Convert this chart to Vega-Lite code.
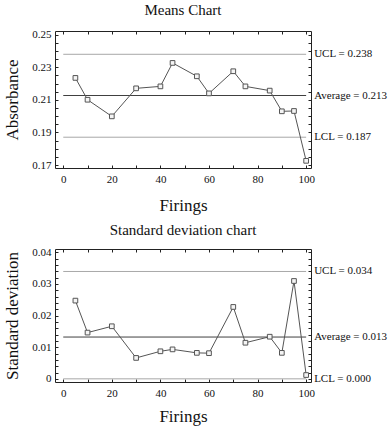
{
  "$schema": "https://vega.github.io/schema/vega-lite/v6.json",
  "background": "white",
  "padding": {"left": 3, "top": 2, "right": 2, "bottom": 2},
  "spacing": 8,
  "config": {
    "view": {"stroke": "#222", "strokeWidth": 1},
    "font": "Liberation Serif",
    "title": {"font": "Liberation Serif", "fontSize": 15, "fontWeight": "normal", "color": "#111", "offset": 11, "anchor": "middle"},
    "axis": {"labelFont": "Liberation Serif", "labelFontSize": 11, "labelColor": "#111", "titleFont": "Liberation Serif", "titleFontSize": 17, "titleFontWeight": "normal", "titleColor": "#111", "tickColor": "#222", "tickWidth": 1, "domain": false, "grid": false, "ticks": true},
    "text": {"font": "Liberation Serif", "fontSize": 11, "color": "#111"}
  },
  "datasets": {
    "means": [
      {"firing": 5, "value": 0.2235}, {"firing": 10, "value": 0.2101}, {"firing": 20, "value": 0.1999},
      {"firing": 30, "value": 0.2171}, {"firing": 40, "value": 0.2183}, {"firing": 45, "value": 0.2327},
      {"firing": 55, "value": 0.2245}, {"firing": 60, "value": 0.2140}, {"firing": 70, "value": 0.2276},
      {"firing": 75, "value": 0.2183}, {"firing": 85, "value": 0.2157}, {"firing": 90, "value": 0.2030},
      {"firing": 95, "value": 0.2032}, {"firing": 100, "value": 0.1726}
    ],
    "sds": [
      {"firing": 5, "value": 0.0247}, {"firing": 10, "value": 0.0146}, {"firing": 20, "value": 0.0166},
      {"firing": 30, "value": 0.0066}, {"firing": 40, "value": 0.0087}, {"firing": 45, "value": 0.0093},
      {"firing": 55, "value": 0.0082}, {"firing": 60, "value": 0.0081}, {"firing": 70, "value": 0.0227},
      {"firing": 75, "value": 0.0114}, {"firing": 85, "value": 0.0133}, {"firing": 90, "value": 0.0082},
      {"firing": 95, "value": 0.0309}, {"firing": 100, "value": 0.0012}
    ],
    "meanLimits": [
      {"kind": "UCL", "value": 0.238, "label": "UCL = 0.238"},
      {"kind": "Average", "value": 0.2127, "label": "Average = 0.213"},
      {"kind": "LCL", "value": 0.1871, "label": "LCL = 0.187"}
    ],
    "sdLimits": [
      {"kind": "UCL", "value": 0.0339, "label": "UCL = 0.034"},
      {"kind": "Average", "value": 0.0132, "label": "Average = 0.013"},
      {"kind": "LCL", "value": 0.0, "label": "LCL = 0.000"}
    ]
  },
  "vconcat": [
    {
      "title": "Means Chart",
      "width": 256,
      "height": 137,
      "resolve": {"axis": {"x": "independent", "y": "independent"}},
      "layer": [
        {
          "data": {"name": "meanLimits"},
          "mark": {"type": "rule", "strokeWidth": 1},
          "encoding": {
            "x": {"datum": 0, "type": "quantitative", "scale": {"domain": [-3.4, 102], "nice": false, "zero": false},
                  "axis": {"orient": "top", "title": null, "labels": false, "values": [0,10,20,30,40,50,60,70,80,90,100], "tickSize": -3}},
            "x2": {"datum": 100},
            "y": {"field": "value", "type": "quantitative", "scale": {"domain": [0.1682, 0.2523], "nice": false, "zero": false},
                  "axis": {"orient": "right", "title": null, "labels": false, "values": [0.17,0.175,0.18,0.185,0.19,0.195,0.2,0.205,0.21,0.215,0.22,0.225,0.23,0.235,0.24,0.245,0.25], "tickSize": -3}},
            "color": {"field": "kind", "type": "nominal", "scale": {"domain": ["UCL", "Average", "LCL"], "range": ["#a8a8a8", "#404040", "#a8a8a8"]}, "legend": null}
          }
        },
        {
          "data": {"name": "means"},
          "mark": {"type": "line", "color": "#555", "strokeWidth": 1},
          "encoding": {
            "x": {"field": "firing", "type": "quantitative", "scale": {"domain": [-3.4, 102], "nice": false, "zero": false},
                  "axis": {"orient": "bottom", "title": "Firings", "titlePadding": 13, "labelPadding": 8, "values": [0,10,20,30,40,50,60,70,80,90,100],
                           "labelExpr": "datum.value % 20 == 0 ? format(datum.value, 'd') : ''", "tickSize": -3}},
            "y": {"field": "value", "type": "quantitative", "scale": {"domain": [0.1682, 0.2523], "nice": false, "zero": false},
                  "axis": {"orient": "left", "title": "Absorbance", "titlePadding": 10, "labelPadding": 7, "values": [0.17,0.175,0.18,0.185,0.19,0.195,0.2,0.205,0.21,0.215,0.22,0.225,0.23,0.235,0.24,0.245,0.25],
                           "labelExpr": "abs(datum.value*100 - round(datum.value*100)) < 0.000001 && round(datum.value*100) % 2 == 1 ? format(datum.value, '.2f') : ''",
                           "tickSize": -3}}
          }
        },
        {
          "data": {"name": "means"},
          "mark": {"type": "point", "shape": "square", "size": 22, "filled": true, "fill": "#f4f4f4", "stroke": "#555", "strokeWidth": 1, "opacity": 1},
          "encoding": {
            "x": {"field": "firing", "type": "quantitative", "axis": null},
            "y": {"field": "value", "type": "quantitative", "axis": null}
          }
        },
        {
          "data": {"name": "meanLimits"},
          "mark": {"type": "text", "align": "left", "baseline": "middle", "dx": 8},
          "encoding": {
            "x": {"datum": 100, "type": "quantitative", "axis": null},
            "y": {"field": "value", "type": "quantitative", "axis": null},
            "text": {"field": "label"}
          }
        }
      ]
    },
    {
      "title": {"text": "Standard deviation chart", "offset": 8},
      "width": 256,
      "height": 133,
      "resolve": {"axis": {"x": "independent", "y": "independent"}},
      "layer": [
        {
          "data": {"name": "sdLimits"},
          "mark": {"type": "rule", "strokeWidth": 1},
          "encoding": {
            "x": {"datum": 0, "type": "quantitative", "scale": {"domain": [-3.4, 102], "nice": false, "zero": false},
                  "axis": {"orient": "top", "title": null, "labels": false, "values": [0,10,20,30,40,50,60,70,80,90,100], "tickSize": -3}},
            "x2": {"datum": 100},
            "y": {"field": "value", "type": "quantitative", "scale": {"domain": [-0.001, 0.041], "nice": false, "zero": false},
                  "axis": {"orient": "right", "title": null, "labels": false, "values": [0,0.002,0.004,0.006,0.008,0.01,0.012,0.014,0.016,0.018,0.02,0.022,0.024,0.026,0.028,0.03,0.032,0.034,0.036,0.038,0.04], "tickSize": -3}},
            "color": {"field": "kind", "type": "nominal", "scale": {"domain": ["UCL", "Average", "LCL"], "range": ["#8a8a8a", "#606060", "#a8a8a8"]}, "legend": null}
          }
        },
        {
          "data": {"name": "sds"},
          "mark": {"type": "line", "color": "#555", "strokeWidth": 1},
          "encoding": {
            "x": {"field": "firing", "type": "quantitative", "scale": {"domain": [-3.4, 102], "nice": false, "zero": false},
                  "axis": {"orient": "bottom", "title": "Firings", "titlePadding": 10, "labelPadding": 8, "values": [0,10,20,30,40,50,60,70,80,90,100],
                           "labelExpr": "datum.value % 20 == 0 ? format(datum.value, 'd') : ''", "tickSize": -3}},
            "y": {"field": "value", "type": "quantitative", "scale": {"domain": [-0.001, 0.041], "nice": false, "zero": false},
                  "axis": {"orient": "left", "title": "Standard deviation", "titlePadding": 10, "labelPadding": 7, "values": [0,0.002,0.004,0.006,0.008,0.01,0.012,0.014,0.016,0.018,0.02,0.022,0.024,0.026,0.028,0.03,0.032,0.034,0.036,0.038,0.04],
                           "labelExpr": "round(datum.value*1000) % 10 == 0 ? (datum.value == 0 ? '0' : format(datum.value, '.2f')) : ''",
                           "tickSize": -3}}
          }
        },
        {
          "data": {"name": "sds"},
          "mark": {"type": "point", "shape": "square", "size": 22, "filled": true, "fill": "#f4f4f4", "stroke": "#555", "strokeWidth": 1, "opacity": 1},
          "encoding": {
            "x": {"field": "firing", "type": "quantitative", "axis": null},
            "y": {"field": "value", "type": "quantitative", "axis": null}
          }
        },
        {
          "data": {"name": "sdLimits"},
          "mark": {"type": "text", "align": "left", "baseline": "middle", "dx": 8},
          "encoding": {
            "x": {"datum": 100, "type": "quantitative", "axis": null},
            "y": {"field": "value", "type": "quantitative", "axis": null},
            "text": {"field": "label"}
          }
        }
      ]
    }
  ]
}
